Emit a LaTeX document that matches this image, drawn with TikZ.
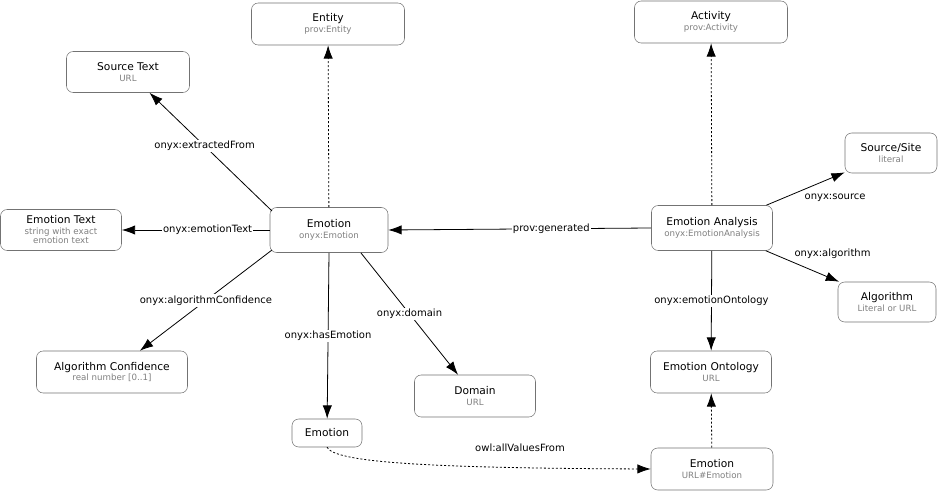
\documentclass[tikz,border=0pt]{standalone}
\usepackage{fontspec}
\setmainfont{DejaVu Sans}
\usetikzlibrary{arrows.meta}
\begin{document}
\begin{tikzpicture}[x=0.75pt,y=-0.75pt,
  box/.style={draw=black!55,rounded corners=5pt,fill=white,align=center,inner sep=0pt,font=\fontsize{8}{9}\selectfont},
  lab/.style={fill=white,inner sep=1pt,font=\fontsize{7.5}{9}\selectfont},
  side/.style={inner sep=2pt,font=\fontsize{7.5}{9}\selectfont},
  arr/.style={-{Latex[length=10pt,width=7pt]},line width=0.6pt},
  dot/.style={arr,dash pattern=on 1.5pt off 1.5pt}]
\useasboundingbox (0,0) rectangle (940,491);
\newcommand{\bx}[5]{\node[box,minimum width=#3*0.75pt,minimum height=#4*0.75pt] (#1) at (#2) {#5};}
\newcommand{\st}{\\[-1pt]\fontsize{6.5}{7.5}\selectfont\color{black!50}}
\bx{entity}{328,24}{153}{42}{Entity\st prov:Entity}
\bx{activity}{711,22}{153}{42}{Activity\st prov:Activity}
\bx{src}{128,72}{123}{41}{Source Text\st URL}
\bx{site}{891,153}{92}{40}{Source/Site\st literal}
\bx{etext}{61,230}{121}{41}{Emotion Text\st string with exact\\[-2pt]\fontsize{6.5}{7.5}\selectfont\color{black!50} emotion text}
\bx{emo}{329,230}{118}{45}{Emotion\st onyx:Emotion}
\bx{ea}{712,228}{121}{45}{Emotion Analysis\st onyx:EmotionAnalysis}
\bx{algo}{887,302}{98}{40}{Algorithm\st Literal or URL}
\bx{conf}{112,372}{151}{42}{Algorithm Confidence\st real number [0..1]}
\bx{dom}{475,396}{121}{42}{Domain\st URL}
\bx{onto}{711,372}{121}{42}{Emotion Ontology\st URL}
\bx{emo2}{327,433}{70}{28}{Emotion}
\bx{emo3}{712,469}{122}{42}{Emotion\st URL\#Emotion}
\coordinate (e1) at (272,211);
\coordinate (e2) at (272,250);
\coordinate (e3) at (361,253);
\coordinate (e4) at (329,253);
\draw[arr] (e1) -- node[lab,pos=0.55]{onyx:extractedFrom} (src);
\draw[dot] (emo) -- (entity);
\draw[arr] (emo.west) -- node[lab,pos=0.42]{onyx:emotionText} (etext.east);
\draw[arr] (e2) -- node[lab,pos=0.5]{onyx:algorithmConfidence} (conf);
\draw[arr] (e4) -- node[lab,pos=0.5]{onyx:hasEmotion} (emo2);
\draw[arr] (e3) -- node[lab,pos=0.5]{onyx:domain} (dom);
\draw[arr] (ea.west) -- node[lab,pos=0.38]{prov:generated} (emo.east);
\draw[dot] (ea) -- (activity);
\draw[arr] (ea) -- node[side,pos=0.45,below right]{onyx:source} (site);
\draw[arr] (ea) -- node[side,pos=0.35,above right]{onyx:algorithm} (algo);
\draw[arr] (ea) -- node[lab,pos=0.5]{onyx:emotionOntology} (onto);
\draw[dot] (emo3) -- (onto);
\draw[dot] (emo2.south) .. controls (335,462) and (420,468) .. (emo3.west);
\node[lab] (avf) at (520,448) {owl:allValuesFrom};
\end{tikzpicture}
\end{document}
